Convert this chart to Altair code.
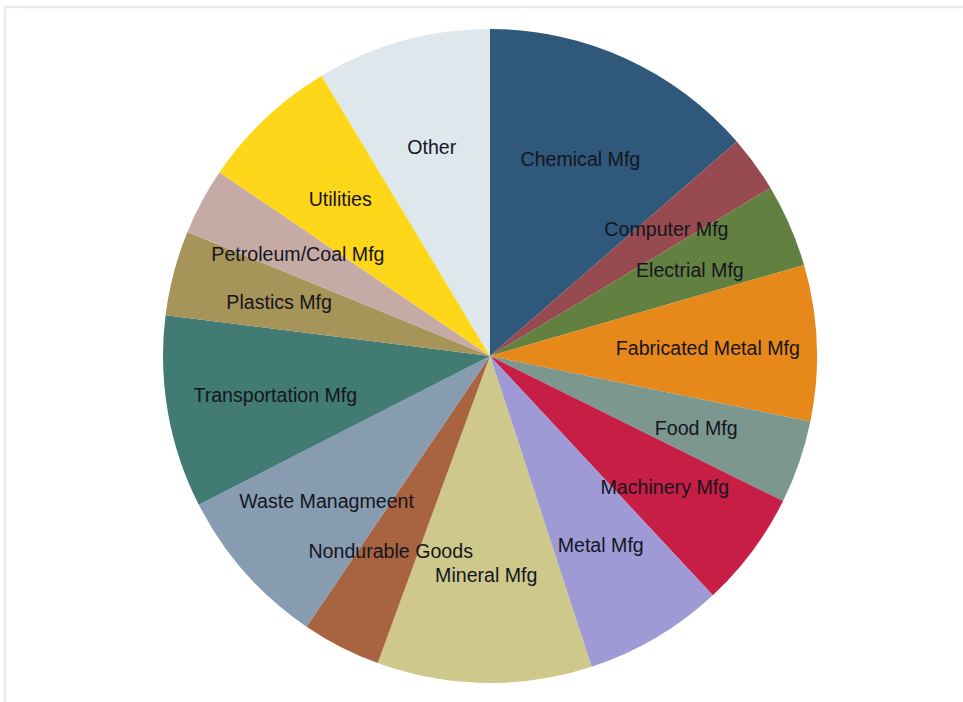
import altair as alt
import pandas as pd

categories = [
    "Chemical Mfg", "Computer Mfg", "Electrial Mfg", "Fabricated Metal Mfg",
    "Food Mfg", "Machinery Mfg", "Metal Mfg", "Mineral Mfg", "Nondurable Goods",
    "Waste Managmeent", "Transportation Mfg", "Plastics Mfg", "Petroleum/Coal Mfg",
    "Utilities", "Other",
]
values = [13.6, 2.8, 4.1, 7.7, 4.1, 5.75, 6.9, 10.6, 3.9, 8.0, 9.5, 4.2, 3.3, 6.9, 8.6]
colors = [
    "#2f587b", "#974a50", "#62803f", "#e6881a", "#7c978d", "#c71e45",
    "#9f9ad6", "#cec88b", "#a86340", "#879cb0", "#417b73", "#a69458",
    "#c6aaa6", "#fed61a", "#dde7ec",
]

df = pd.DataFrame({"category": categories, "value": values, "order": list(range(len(categories)))})

CX, CY = 490, 356

frame = alt.Chart(pd.DataFrame({"a": [0]})).mark_rect(
    fill="white", stroke="#e4ecee", strokeWidth=2.5
).encode(
    x=alt.value(5), y=alt.value(7), x2=alt.value(975), y2=alt.value(715)
)

base = alt.Chart(df).encode(
    theta=alt.Theta("value:Q", stack=True),
    order=alt.Order("order:Q", sort="ascending"),
)

arcs = base.mark_arc(outerRadius=327).encode(
    x=alt.value(CX), y=alt.value(CY),
    color=alt.Color("category:N", scale=alt.Scale(domain=categories, range=colors), legend=None),
)

labels = base.mark_text(
    radius=218, fontSize=19.6, font="Liberation Sans", color="#15151f",
    align="center", baseline="middle", dy=2
).encode(
    x=alt.value(CX), y=alt.value(CY),
    text="category:N",
)

chart = alt.layer(frame, arcs, labels).properties(
    width=963, height=702, padding=0, autosize=alt.AutoSizeParams(type="none"),
    background="white",
).configure_view(stroke=None)

chart.save("out.html", embed_options={"renderer": "svg", "actions": False})
